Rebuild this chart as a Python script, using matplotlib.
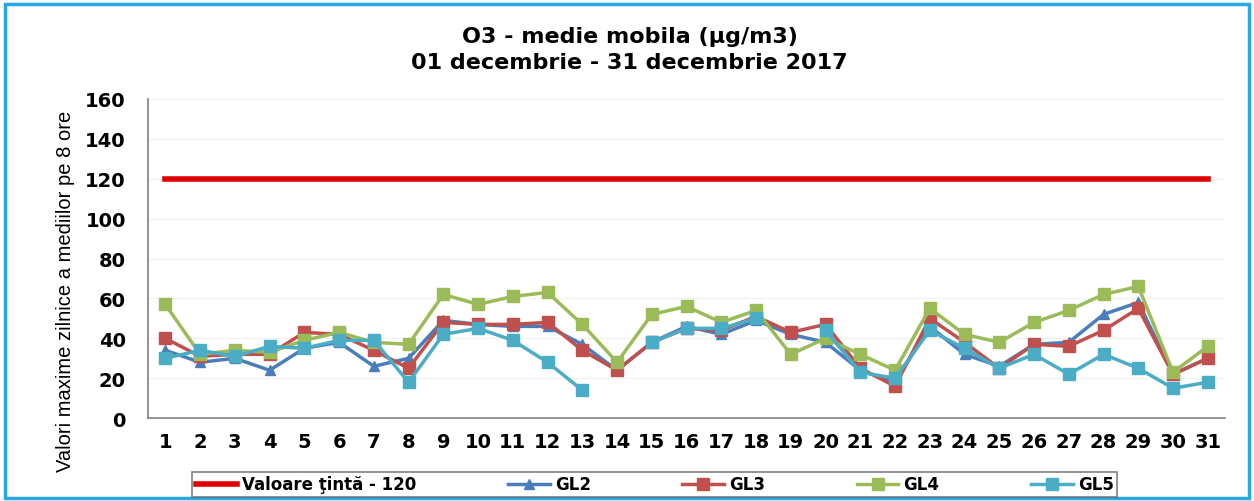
import numpy as np
import matplotlib
matplotlib.use("Agg")
import matplotlib.pyplot as plt
from matplotlib.patches import Rectangle

nan = np.nan

# data
days = list(range(1, 32))
target = [120] * 31
gl2 = [34, 28, 30, 24, 35, 38, 26, 30, 49, 47, 46, 46, 37, 24, 38, 46, 42, 49, 42, 38,
       24, 18, 46, 32, 26, 37, 38, 52, 58, 22, 30]
gl3 = [40, 31, 32, 32, 43, 42, 34, 25, 48, 47, 47, 48, 34, 24, 38, 45, 44, 51, 43, 47,
       25, 16, 50, 38, 25, 37, 36, 44, 55, 22, 30]
gl4 = [57, 32, 34, 33, 39, 43, 38, 37, 62, 57, 61, 63, 47, 28, 52, 56, 48, 54, 32, 40,
       32, 24, 55, 42, 38, 48, 54, 62, 66, 23, 36]
gl5 = [30, 34, 31, 36, 35, 39, 39, 18, 42, 45, 39, 28, 14, nan, 38, 45, 45, 50, nan, 44,
       23, 20, 44, 35, 25, 32, 22, 32, 25, 15, 18]

plt.rcParams['font.family'] = ['DejaVu Sans']

fig = plt.figure(figsize=(12.54, 5.02), dpi=100)
ax = fig.add_axes([0.118, 0.165, 0.859, 0.636])

ax.plot(days, target, color='#e00000', lw=4, label='Valoare ţintă - 120', zorder=2)
ax.plot(days, gl2, color='#4a7ebb', lw=2.5, marker='^', ms=7, label='GL2', zorder=3)
ax.plot(days, gl3, color='#c0504d', lw=2.5, marker='s', ms=8, label='GL3', zorder=3)
ax.plot(days, gl4, color='#9bbb59', lw=2.5, marker='s', ms=8, label='GL4', zorder=3)
ax.plot(days, gl5, color='#4bacc6', lw=2.5, marker='s', ms=8, label='GL5', zorder=3)

ax.set_xlim(0.5, 31.5)
ax.set_ylim(0, 160)
ax.set_yticks(range(0, 161, 20))
ax.set_xticks(days)
ax.tick_params(axis='y', length=0, labelsize=14, pad=16)
ax.tick_params(axis='x', length=0, labelsize=14, pad=10)
for lab in ax.get_xticklabels() + ax.get_yticklabels():
    lab.set_fontweight('bold')
ax.grid(axis='y', color='#f0f0f0', lw=0.8)
ax.set_axisbelow(True)
for s in ['top', 'right']:
    ax.spines[s].set_visible(False)
for s in ['left', 'bottom']:
    ax.spines[s].set_color('#808080')
    ax.spines[s].set_linewidth(1.2)

ax.set_ylabel('Valori maxime zilnice a mediilor pe 8 ore', fontsize=14.5,
              family='Liberation Sans')
ax.yaxis.set_label_coords(-0.068, 0.40)

fig.text(0.502, 0.926, 'O3 - medie mobila (µg/m3)', ha='center', va='center',
         fontsize=16, fontweight='bold')
fig.text(0.502, 0.874, '01 decembrie - 31 decembrie 2017', ha='center', va='center',
         fontsize=16, fontweight='bold')

leg = fig.legend(loc='center', bbox_to_anchor=(0.522, 0.033), ncol=5, fontsize=12,
                 frameon=True, fancybox=False, edgecolor='#606060', handlelength=2.5,
                 columnspacing=5.5, borderpad=0.2, handletextpad=0.3)
leg.get_frame().set_linewidth(1.2)
for t in leg.get_texts():
    t.set_fontweight('bold')

# outer light-blue frame
fig.patches.append(Rectangle((0.004, 0.006), 0.992, 0.984, transform=fig.transFigure,
                             fill=False, edgecolor='#29a8e6', lw=2.5))

fig.savefig('out.png', dpi=100)
